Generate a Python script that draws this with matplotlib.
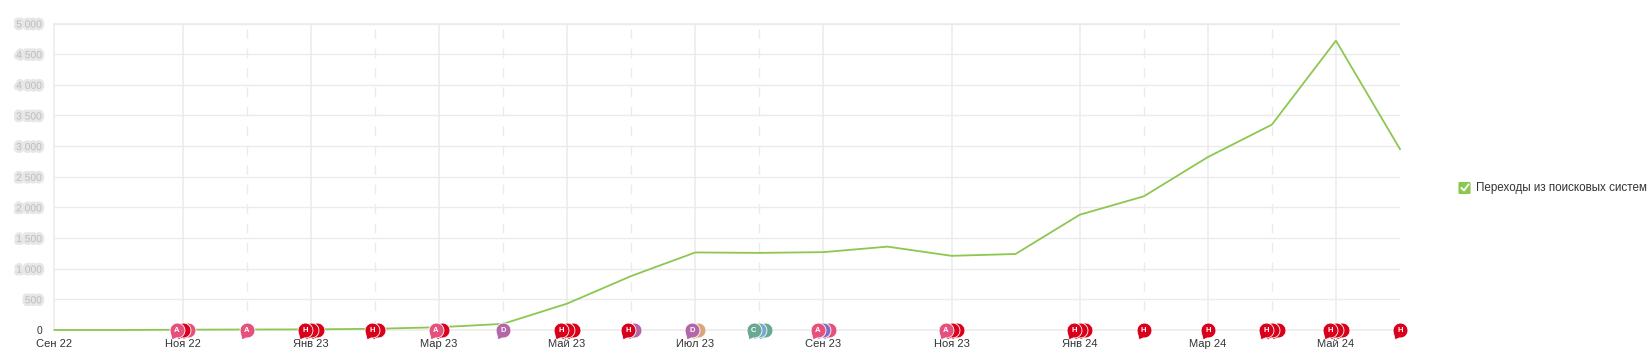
# -*- coding: utf-8 -*-
import matplotlib
matplotlib.use('Agg')
import matplotlib.pyplot as plt
import matplotlib.patheffects as pe
from matplotlib.path import Path
from matplotlib.patches import FancyBboxPatch
from matplotlib.lines import Line2D

plt.rcParams['font.family'] = ['Liberation Sans', 'DejaVu Sans']

W, H = 1652, 356

# dados
meses = ['Сен 22', 'Ноя 22', 'Янв 23', 'Мар 23', 'Май 23', 'Июл 23',
         'Сен 23', 'Ноя 23', 'Янв 24', 'Мар 24', 'Май 24']
valores = [0, 0, 5, 8, 10, 20, 45, 100, 430, 880, 1265, 1258, 1270, 1360,
           1210, 1240, 1880, 2180, 2820, 3350, 4720, 2950]
y_ticks = [0, 500, 1000, 1500, 2000, 2500, 3000, 3500, 4000, 4500, 5000]
y_labels = ['0', '500', '1 000', '1 500', '2 000', '2 500', '3 000', '3 500',
            '4 000', '4 500', '5 000']
serie = 'Переходы из поисковых систем'

# meses com linha tracejada
tracejados = [3, 5, 7, 9, 11, 17, 19]

# (mes, tipos) - o primeiro tipo fica na frente
grupos = [
    (2, 'AHA'), (3, 'A'), (4, 'HHH'), (5, 'HH'), (6, 'AH'), (7, 'D'),
    (8, 'HHH'), (9, 'HD'), (10, 'DT'), (11, 'CBC'), (12, 'AVA'),
    (14, 'AHH'), (16, 'HHH'), (17, 'H'), (18, 'H'), (19, 'HHH'),
    (20, 'HHH'), (21, 'H'),
]
cores = {'A': '#e4517d', 'H': '#d9001b', 'D': '#b566a8', 'T': '#d9a67c',
         'C': '#69a98f', 'B': '#79a7cf', 'V': '#7b70c4'}

VERDE = '#8cc751'
GRADE = '#ebebeb'

fig = plt.figure(figsize=(W / 100, H / 100), dpi=100)
x0, x1, y0, y1 = 54.5, 1400, 330, 23.5
ax = fig.add_axes([x0 / W, 1 - y0 / H, (x1 - x0) / W, (y0 - y1) / H])
ax.set_xlim(0, 21)
ax.set_ylim(0, 5000)

for s in ax.spines.values():
    s.set_color(GRADE)
    s.set_linewidth(1.1)
ax.spines['right'].set_visible(False)

ax.set_yticks(y_ticks)
ax.set_yticklabels(y_labels, fontsize=7.4, color='#999999', alpha=0.3,
                   path_effects=[pe.withStroke(linewidth=4, foreground='#b0b0b0', alpha=0.3)])
ax.get_yticklabels()[0].set_path_effects([])
ax.get_yticklabels()[0].set_alpha(1)
ax.get_yticklabels()[0].set_color('#333333')
ax.set_xticks(range(0, 22, 2))
ax.set_xticklabels(meses, fontsize=8.0, color='#333333')
ax.tick_params(length=0, pad=6.5)
ax.tick_params(axis='y', pad=9)

ax.grid(axis='y', color=GRADE, lw=1.0)
ax.vlines(range(2, 22, 2), 0, 5000, color=GRADE, lw=1.1, zorder=1)
ax.vlines(tracejados, 0, 5000, color=GRADE, lw=1.0, zorder=1, linestyles=(0, (7, 7)))
ax.set_axisbelow(True)

ax.plot(range(len(valores)), valores, color=VERDE, lw=1.3, zorder=3, clip_on=False)

# balao: contorno unico, arco do circulo mais o bico embaixo a esquerda
arco = Path.arc(262, 558)
verts = list(arco.vertices) + [(-0.72, -1.25), tuple(arco.vertices[0]), (0, 0)]
codes = list(arco.codes) + [Path.LINETO, Path.LINETO, Path.CLOSEPOLY]
balao = Path(verts, codes)

passo = 0.09  # deslocamento de cada balao na pilha, em meses
z = 5
for mes, tipos in grupos:
    n = len(tipos)
    inicio = mes - passo * (n - 1) / 2
    for i in range(n - 1, -1, -1):
        xm = inicio + i * passo
        ax.plot([xm], [0], marker=balao, ms=13.4, mfc=cores[tipos[i]], mec='white',
                mew=0.6, ls='none', clip_on=False, zorder=z)
    ax.annotate(tipos[0], (inicio, 0), xytext=(0, -0.6), textcoords='offset points',
                color='white', fontsize=5.5, fontweight='bold',
                ha='center', va='center', zorder=z + 1, annotation_clip=False)
    z += 2

# legenda
caixa = FancyBboxPatch((1459 / W, 1 - 193.5 / H), 11 / W, 11 / H, transform=fig.transFigure,
                       boxstyle='round,pad=0,rounding_size=0.001', fc=VERDE, ec=VERDE, lw=0.8)
fig.add_artist(caixa)
fig.add_artist(Line2D([1461.5 / W, 1464 / W, 1468.5 / W],
                      [1 - 188 / H, 1 - 190.5 / H, 1 - 184.5 / H],
                      color='white', lw=1.3, transform=fig.transFigure))
fig.text(1475.5 / W, 1 - 187.8 / H, serie, fontsize=8.35, color='#333333', ha='left', va='center')

fig.savefig('out.png', dpi=100)
